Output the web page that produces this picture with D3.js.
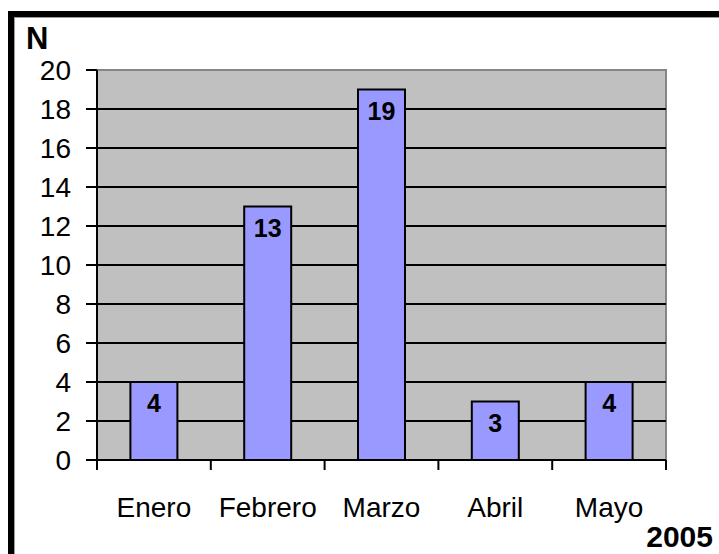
<!DOCTYPE html>
<html lang="es">
<head>
    <meta charset="utf-8">
    <title>N por mes, 2005</title>
    <script type="text/javascript" src="https://cdn.jsdelivr.net/npm/d3@7"></script>
    <style type="text/css">
        body { margin: 0; background: #fff; }
        text { font-family: Arial, "Liberation Sans", sans-serif; }
    </style>
</head>
<body>
    <script type="text/javascript">

        //Data
        var months = ["Enero", "Febrero", "Marzo", "Abril", "Mayo"];
        var counts = [4, 13, 19, 3, 4];
        var yTicks = [0, 2, 4, 6, 8, 10, 12, 14, 16, 18, 20];

        //Width and height
        var w = 719;
        var h = 554;

        //Plot box ("top" is taken by window.top, so prefix these)
        var plotLeft = 97, plotRight = 666, plotTop = 70, plotBottom = 460;

        var svg = d3.select("body")
                    .append("svg")
                    .attr("width", w)
                    .attr("height", h);

        //Frame (black border, cropped at right and bottom)
        svg.append("rect").attr("x", 8).attr("y", 11).attr("width", 800).attr("height", 600).attr("fill", "#000");
        svg.append("rect").attr("x", 14).attr("y", 17).attr("width", 800).attr("height", 600).attr("fill", "#9a9a9a");
        svg.append("rect").attr("x", 15).attr("y", 18).attr("width", 800).attr("height", 600).attr("fill", "#fff");

        //Scales
        var x = d3.scaleBand()
                  .domain(months)
                  .range([plotLeft, plotRight])
                  .paddingInner(0.587)
                  .paddingOuter(0.2935);

        var y = d3.scaleLinear()
                  .domain([0, 20])
                  .range([plotBottom, plotTop]);

        //Plot background
        svg.append("rect")
           .attr("x", plotLeft)
           .attr("y", y(20))
           .attr("width", plotRight - plotLeft)
           .attr("height", y(0) - y(20))
           .attr("fill", "#c0c0c0")
           .attr("stroke", "#858585")
           .attr("stroke-width", 2);

        //Gridlines
        svg.selectAll("line.grid")
           .data(yTicks.filter(function(d) { return d > 0 && d < 20; }))
           .enter()
           .append("line")
           .attr("class", "grid")
           .attr("x1", plotLeft)
           .attr("x2", plotRight)
           .attr("y1", function(d) { return y(d); })
           .attr("y2", function(d) { return y(d); })
           .attr("stroke", "#000")
           .attr("stroke-width", 2);

        //Bars
        svg.selectAll("rect.bar")
           .data(counts)
           .enter()
           .append("rect")
           .attr("class", "bar")
           .attr("x", function(d, i) { return x(months[i]); })
           .attr("y", function(d) { return y(d); })
           .attr("width", x.bandwidth())
           .attr("height", function(d) { return y(0) - y(d); })
           .attr("fill", "#9999ff")
           .attr("stroke", "#000")
           .attr("stroke-width", 2);

        //Value labels
        svg.selectAll("text.val")
           .data(counts)
           .enter()
           .append("text")
           .attr("class", "val")
           .attr("x", function(d, i) { return x(months[i]) + x.bandwidth() / 2; })
           .attr("y", function(d) { return y(d) + 30; })
           .attr("text-anchor", "middle")
           .attr("font-size", "25px")
           .attr("font-weight", "bold")
           .attr("fill", "#000")
           .text(function(d) { return d; });

        //Y axis line
        svg.append("line")
           .attr("x1", plotLeft).attr("x2", plotLeft)
           .attr("y1", y(20)).attr("y2", y(0))
           .attr("stroke", "#000").attr("stroke-width", 2);

        //X axis line
        svg.append("line")
           .attr("x1", plotLeft).attr("x2", plotRight)
           .attr("y1", y(0)).attr("y2", y(0))
           .attr("stroke", "#000").attr("stroke-width", 2);

        //Y ticks and labels
        svg.selectAll("line.ytick")
           .data(yTicks)
           .enter()
           .append("line")
           .attr("class", "ytick")
           .attr("x1", plotLeft - 11).attr("x2", plotLeft)
           .attr("y1", function(d) { return y(d); })
           .attr("y2", function(d) { return y(d); })
           .attr("stroke", "#000").attr("stroke-width", 2);

        svg.selectAll("text.ylab")
           .data(yTicks)
           .enter()
           .append("text")
           .attr("class", "ylab")
           .attr("x", 71)
           .attr("y", function(d) { return y(d) + 10; })
           .attr("text-anchor", "end")
           .attr("font-size", "28px")
           .attr("fill", "#000")
           .text(function(d) { return d; });

        //X ticks at category boundaries
        svg.selectAll("line.xtick")
           .data(d3.range(months.length + 1))
           .enter()
           .append("line")
           .attr("class", "xtick")
           .attr("x1", function(i) { return plotLeft + i * x.step(); })
           .attr("x2", function(i) { return plotLeft + i * x.step(); })
           .attr("y1", y(0)).attr("y2", y(0) + 10)
           .attr("stroke", "#000").attr("stroke-width", 2);

        //X labels
        svg.selectAll("text.xlab")
           .data(months)
           .enter()
           .append("text")
           .attr("class", "xlab")
           .attr("x", function(d) { return x(d) + x.bandwidth() / 2; })
           .attr("y", 517)
           .attr("text-anchor", "middle")
           .attr("font-size", "28px")
           .attr("fill", "#000")
           .text(function(d) { return d; });

        //Axis titles
        svg.append("text")
           .attr("x", 26).attr("y", 49)
           .attr("font-size", "31px").attr("font-weight", "bold")
           .text("N");

        svg.append("text")
           .attr("x", 713).attr("y", 547)
           .attr("text-anchor", "end")
           .attr("font-size", "30px").attr("font-weight", "bold")
           .text("2005");

    </script>
</body>
</html>
